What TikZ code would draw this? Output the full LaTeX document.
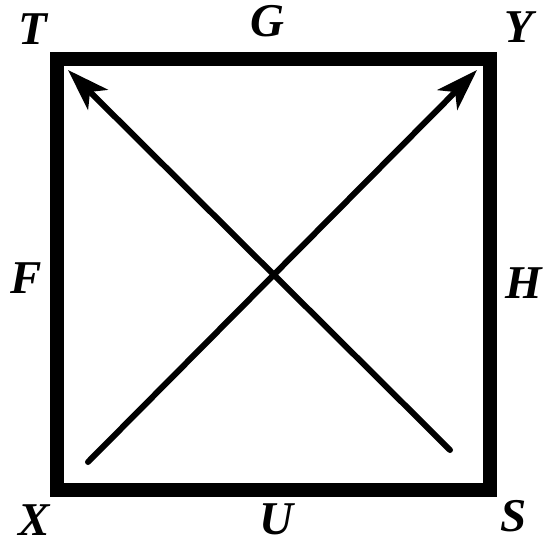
\documentclass[tikz,border=0pt]{standalone}
\usepackage{fontspec}
\setmainfont{Liberation Serif}
\usetikzlibrary{arrows.meta}
\tikzset{
  frame/.style={line width=14pt,line join=miter},
  vector/.style={line width=6pt,line cap=round,-{Stealth[length=42pt,width=28pt,inset=11pt]}},
  letter/.style={font=\fontsize{47}{47}\selectfont\bfseries\itshape,inner sep=0pt}
}
\begin{document}
\begin{tikzpicture}[x=1pt,y=-1pt]
\useasboundingbox (0,0) rectangle (542,547);
% square
\coordinate (tl) at (57,59);\coordinate (tr) at (490,59);
\coordinate (br) at (490,490);\coordinate (bl) at (57,490);
\draw[frame] (tl) -- (tr) -- (br) -- (bl) -- cycle;
% crossing arrows
\coordinate (xs) at (88,462);\coordinate (ye) at (477,70);
\coordinate (ss) at (450,450);\coordinate (te) at (68,70);
\draw[vector] (xs) -- (ye);
\draw[vector] (ss) -- (te);
% letters
\node[letter] (T) at (33,29) {T};
\node[letter] (G) at (267,21) {G};
\node[letter] (Y) at (519,27) {Y};
\node[letter] (F) at (26,278) {F};
\node[letter] (H) at (524,283) {H};
\node[letter] (X) at (34,520) {X};
\node[letter] (U) at (276,519) {U};
\node[letter] (S) at (514,516) {S};
\end{tikzpicture}
\end{document}
